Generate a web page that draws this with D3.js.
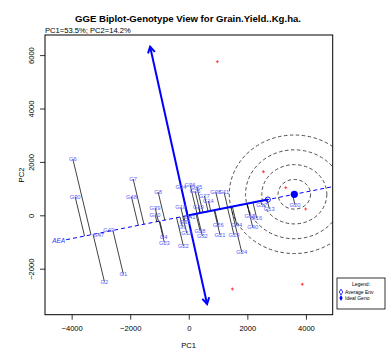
<!DOCTYPE html>
<html>
<head>
<meta charset="utf-8">
<script src="https://cdn.jsdelivr.net/npm/d3@7"></script>
<style>
  html, body { margin: 0; padding: 0; background: #fff; }
  svg { display: block; font-family: "Liberation Sans", Arial, sans-serif; }
</style>
</head>
<body>
<svg id="chart" width="386" height="349"></svg>
<script>
// Genotype scores on PC1 / PC2
const genotypes = ["G6","G30","G2","G47","G43","G1","G7","G48","G8","G39","G10","G4","G23",
  "G34","G36","G45","G25","G27","G14","G18","G19","G41","G9","G12","G28","G32","G22","G35",
  "G38","G11","G26","G21","G44","G29","G24","G15","G16","G40","G17","G13","G20"];
const genoPC1 = [-3959,-3881,-2881,-3079,-2737,-2232,-1901,-1959,-1048,-1150,-1150,-860,-833,
  -263,44,273,215,532,669,-273,328,44,-218,-68,386,464,-184,-126,
  920,1200,1010,1068,1638,1546,1809,2092,2321,2184,2492,2751,3628];
const genoPC2 = [2108,697,-2487,-719,-551,-2210,1359,697,873,285,30,-813,-1026,
  1071,1150,1071,910,734,536,300,322,-52,-427,-674,-588,-775,-1150,-240,
  884,884,-363,-738,-363,-738,-1386,-15,-112,-449,386,236,386];

// Environment scores
const envPC1 = [976, 2546, 3311, 3993, 1488, 3877];
const envPC2 = [5753, 1633, 1034, 236, -2760, -2584];

// Average environment, ideal genotype, ordinate of the average-environment axis
const avgEnv = [2700, 590];
const idealGeno = [3604, 787];
const ordinateEnds = [[-1320, 6315], [625, -3322]];
const ringStep = 555;
const ringCount = 4;

const xTicks = [-4000, -2000, 0, 2000, 4000];
const yTicks = [-2000, 0, 2000, 4000, 6000];

const svg = d3.select("#chart");
const pLeft = 45, pRight = 332.7, pTop = 35, pBottom = 314.7;
const x = d3.scaleLinear().domain([-4910, 4915]).range([pLeft, pRight]);
const y = d3.scaleLinear().domain([-3723, 6753]).range([pBottom, pTop]);

svg.append("defs").append("clipPath").attr("id", "plotClip")
  .append("rect").attr("x", pLeft).attr("y", pTop)
  .attr("width", pRight - pLeft).attr("height", pBottom - pTop);

const plot = svg.append("g").attr("clip-path", "url(#plotClip)");

// Titles
svg.append("text").attr("x", 188).attr("y", 22).attr("text-anchor", "middle")
  .attr("font-size", 9.6).attr("font-weight", "bold").attr("fill", "#000")
  .text("GGE Biplot-Genotype View for Grain.Yield..Kg.ha.");
svg.append("text").attr("x", 45).attr("y", 33).attr("font-size", 7.6).attr("fill", "#000")
  .text("PC1=53.5%; PC2=14.2%");

// Axes
const xAxis = d3.axisBottom(x).tickValues(xTicks).tickSize(5).tickPadding(6).tickFormat(d3.format("d"));
const gx = svg.append("g").attr("transform", `translate(0,${pBottom})`).call(xAxis);
const yAxis = d3.axisLeft(y).tickValues(yTicks).tickSize(5).tickPadding(6).tickFormat(d3.format("d"));
const gy = svg.append("g").attr("transform", `translate(${pLeft},0)`).call(yAxis);
[gx, gy].forEach(g => {
  g.select(".domain").remove();
  g.selectAll("line").attr("stroke", "#000").attr("stroke-width", 0.8);
  g.selectAll("text").attr("font-size", 7.6).attr("fill", "#000")
    .attr("font-family", "Liberation Sans, Arial, sans-serif");
});
gy.selectAll(".tick text")
  .attr("x", null).attr("dy", null)
  .attr("text-anchor", "middle")
  .attr("transform", "translate(-11,0) rotate(-90)");

svg.append("text").attr("x", 188.7).attr("y", 348).attr("text-anchor", "middle")
  .attr("font-size", 7.6).text("PC1");
svg.append("text").attr("transform", "translate(24,175) rotate(-90)")
  .attr("text-anchor", "middle").attr("font-size", 7.6).text("PC2");

// Concentric rings around the ideal genotype
d3.range(1, ringCount + 1).forEach(k => {
  plot.append("ellipse")
    .attr("cx", x(idealGeno[0])).attr("cy", y(idealGeno[1]))
    .attr("rx", x(ringStep * k) - x(0)).attr("ry", y(0) - y(ringStep * k))
    .attr("fill", "none").attr("stroke", "#222").attr("stroke-width", 0.8)
    .attr("stroke-dasharray", "3.5,2.5");
});

// Average-environment axis (dashed through origin)
const norm = Math.hypot(idealGeno[0], idealGeno[1]);
const u = [idealGeno[0] / norm, idealGeno[1] / norm];
const aeaLeftX = -4188;
const aeaRightX = 4915;
plot.append("line")
  .attr("x1", x(aeaLeftX)).attr("y1", y(aeaLeftX * u[1] / u[0]))
  .attr("x2", x(aeaRightX)).attr("y2", y(aeaRightX * u[1] / u[0]))
  .attr("stroke", "#0000ff").attr("stroke-width", 1).attr("stroke-dasharray", "4,3");
svg.append("text").attr("x", x(aeaLeftX) - 1).attr("y", y(aeaLeftX * u[1] / u[0]) + 3)
  .attr("text-anchor", "end").attr("font-size", 6.5).attr("font-style", "italic")
  .attr("fill", "#3333ff").text("AEA");

// Projection lines from each genotype onto the axis
const genos = genotypes.map((g, i) => ({ name: g, pc1: genoPC1[i], pc2: genoPC2[i] }));
genos.forEach(d => {
  const t = d.pc1 * u[0] + d.pc2 * u[1];
  d.p1 = t * u[0]; d.p2 = t * u[1];
});
plot.selectAll("line.proj").data(genos).join("line").attr("class", "proj")
  .attr("x1", d => x(d.pc1)).attr("y1", d => y(d.pc2))
  .attr("x2", d => x(d.p1)).attr("y2", d => y(d.p2))
  .attr("stroke", "#111").attr("stroke-width", 0.8);

// Segment from origin to the average environment
plot.append("line")
  .attr("x1", x(0)).attr("y1", y(0))
  .attr("x2", x(avgEnv[0])).attr("y2", y(avgEnv[1]))
  .attr("stroke", "#0000ff").attr("stroke-width", 2);

// Ordinate with arrowheads at both ends
plot.append("line")
  .attr("x1", x(ordinateEnds[0][0])).attr("y1", y(ordinateEnds[0][1]))
  .attr("x2", x(ordinateEnds[1][0])).attr("y2", y(ordinateEnds[1][1]))
  .attr("stroke", "#0000ff").attr("stroke-width", 2);
function arrowHead(from, to) {
  const x0 = x(from[0]), y0 = y(from[1]), x1 = x(to[0]), y1 = y(to[1]);
  const ang = Math.atan2(y1 - y0, x1 - x0);
  const len = 7, spread = Math.PI / 6;
  const p = d3.path();
  p.moveTo(x1 - len * Math.cos(ang - spread), y1 - len * Math.sin(ang - spread));
  p.lineTo(x1, y1);
  p.lineTo(x1 - len * Math.cos(ang + spread), y1 - len * Math.sin(ang + spread));
  plot.append("path").attr("d", p.toString()).attr("fill", "none")
    .attr("stroke", "#0000ff").attr("stroke-width", 2);
}
arrowHead(ordinateEnds[1], ordinateEnds[0]);
arrowHead(ordinateEnds[0], ordinateEnds[1]);

// Environment markers
plot.selectAll("path.env").data(envPC1.map((v, i) => [v, envPC2[i]])).join("path")
  .attr("class", "env")
  .attr("d", d => `M${x(d[0]) - 1.5},${y(d[1])}h3M${x(d[0])},${y(d[1]) - 1.5}v3`)
  .attr("stroke", "#ff3030").attr("stroke-width", 0.9);

// Average environment marker and ideal genotype
plot.append("circle").attr("cx", x(avgEnv[0])).attr("cy", y(avgEnv[1])).attr("r", 2.6)
  .attr("fill", "none").attr("stroke", "#0000ff").attr("stroke-width", 0.9);
plot.append("circle").attr("cx", x(idealGeno[0])).attr("cy", y(idealGeno[1])).attr("r", 3.6)
  .attr("fill", "#0000ff");

// Genotype labels
plot.selectAll("text.geno").data(genos).join("text").attr("class", "geno")
  .attr("x", d => x(d.pc1)).attr("y", d => y(d.pc2) + 2.1)
  .attr("text-anchor", "middle").attr("font-size", 5.8)
  .attr("fill", "#5a5aff").text(d => d.name);

// Plot frame
svg.append("rect").attr("x", pLeft).attr("y", pTop)
  .attr("width", pRight - pLeft).attr("height", pBottom - pTop)
  .attr("fill", "none").attr("stroke", "#000").attr("stroke-width", 1);

// Legend
const lg = svg.append("g");
lg.append("rect").attr("x", 337).attr("y", 278).attr("width", 48).attr("height", 31)
  .attr("fill", "#fff").attr("stroke", "#000").attr("stroke-width", 0.8);
lg.append("text").attr("x", 361).attr("y", 286).attr("text-anchor", "middle")
  .attr("font-size", 5).text("Legend:");
lg.append("path").attr("d", d3.symbol(d3.symbolDiamond, 10)())
  .attr("transform", "translate(341,292)").attr("fill", "none")
  .attr("stroke", "#0000ff").attr("stroke-width", 0.8);
lg.append("text").attr("x", 345).attr("y", 294).attr("font-size", 5).text("Average Env");
lg.append("path").attr("d", d3.symbol(d3.symbolDiamond, 10)())
  .attr("transform", "translate(341,298)").attr("fill", "#0000ff");
lg.append("text").attr("x", 345).attr("y", 300).attr("font-size", 5).text("Ideal Geno");
</script>
</body>
</html>
